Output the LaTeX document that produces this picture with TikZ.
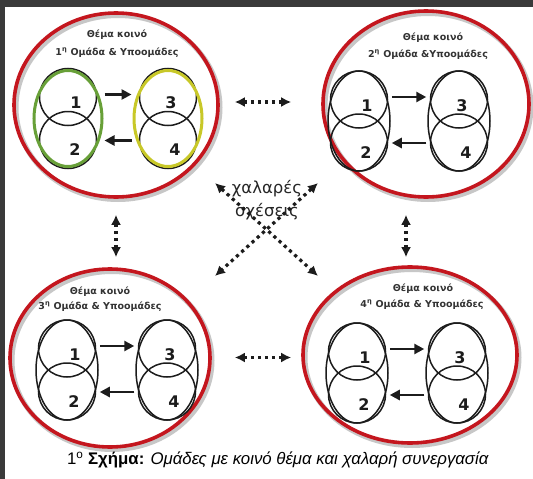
\documentclass[tikz,border=0pt]{standalone}
\usepackage{fontspec}
\setmainfont{DejaVu Sans}
\newfontfamily\capfont{Liberation Sans}
\usetikzlibrary{shapes.geometric,arrows.meta,calc}

\definecolor{ringred}{RGB}{196,22,30}
\definecolor{framegray}{RGB}{58,58,58}
\definecolor{subgreen}{RGB}{104,160,56}
\definecolor{subyellow}{RGB}{200,200,40}
\definecolor{ink}{RGB}{28,28,28}

\tikzset{
  ring/.style={ellipse, draw=ringred, line width=3.6pt, inner sep=0pt},
  ringshadow/.style={draw=black!22, line width=5pt},
  pairbox/.style={ellipse, draw=ink, line width=1.5pt, minimum width=62pt, minimum height=100pt, inner sep=0pt},
  pairhi/.style={ellipse, draw=#1, line width=3pt, minimum width=68pt, minimum height=96pt, inner sep=0pt},
  sub/.style={circle, draw=ink, line width=1.5pt, minimum size=57pt, inner sep=0pt},
  num/.style={font=\bfseries\fontsize{16}{16}\selectfont, text=ink, inner sep=0pt},
  title/.style={font=\bfseries\fontsize{9.5}{10}\selectfont, text=black!80, inner sep=0pt},
  flow/.style={-{Triangle[length=10pt,width=10pt]}, line width=2.9pt, draw=ink, shorten <=1pt, shorten >=1pt},
  loose/.style={{Latex[length=10pt,width=10pt]}-{Latex[length=10pt,width=10pt]}, line width=3.2pt, dash pattern=on 3.2pt off 3.8pt, draw=ink},
}

% #1 name, #2 content x, #3 content y, #4 left ring style, #5 right ring style
\newcommand{\subteams}[5]{%
  \node[sub] (#1a) at ({#2-50},{#3-21.5}) {};
  \node[sub] (#1b) at ({#2-50},{#3+21.5}) {};
  \node[sub] (#1c) at ({#2+50},{#3-21.5}) {};
  \node[sub] (#1d) at ({#2+50},{#3+21.5}) {};
  \node[#4] (#1L) at ({#2-50},#3) {};
  \node[#5] (#1R) at ({#2+50},#3) {};
  \node[num] (#1n1) at ([shift={(8,6)}]#1a.center) {1};
  \node[num] (#1n2) at ([shift={(7,10)}]#1b.center) {2};
  \node[num] (#1n3) at ([shift={(3,6)}]#1c.center) {3};
  \node[num] (#1n4) at ([shift={(7,10)}]#1d.center) {4};
  \draw[flow] ([yshift=24pt]#1L.east) -- ([yshift=24pt]#1R.west);
  \draw[flow] ([yshift=-22pt]#1R.west) -- ([yshift=-22pt]#1L.east);
}

% #1 name, #2 x, #3 y, #4 width, #5 height
\newcommand{\bigring}[5]{%
  \draw[ringshadow] ({#2+2},{#3+2.5}) ellipse [x radius={#4/2*1pt}, y radius={#5/2*1pt}];
  \node[ring, minimum width=#4pt, minimum height=#5pt] (#1) at (#2,#3) {};
}

\begin{document}
\begin{tikzpicture}[x=1pt,y=-1pt]
  \path[use as bounding box] (0,0) rectangle (533,479);
  \fill[white] (0,0) rectangle (533,479);
  \fill[framegray] (0,0) rectangle (533,7);
  \fill[framegray] (0,0) rectangle (5,479);

  % group rings
  \bigring{g1}{116}{105}{204}{184}
  \bigring{g2}{426}{104}{206}{186}
  \bigring{g3}{110}{358}{200}{178}
  \bigring{g4}{410}{355}{214}{176}

  % titles
  \node[title] (t1a) at (117,35) {Θέμα κοινό};
  \node[title] (t1b) at (117,53) {1\textsuperscript{η} Ομάδα \& Υποομάδες};
  \node[title] (t2a) at (433,38) {Θέμα κοινό};
  \node[title] (t2b) at (428,55) {2\textsuperscript{η} Ομάδα \&Υποομάδες};
  \node[title] (t3a) at (100,292) {Θέμα κοινό};
  \node[title] (t3b) at (100,307) {3\textsuperscript{η} Ομάδα \& Υποομάδες};
  \node[title] (t4a) at (423,289) {Θέμα κοινό};
  \node[title] (t4b) at (422,305) {4\textsuperscript{η} Ομάδα \& Υποομάδες};

  % sub-groups
  \subteams{g1}{118}{118.5}{pairhi=subgreen}{pairhi=subyellow}
  \subteams{g2}{409}{121}{pairbox}{pairbox}
  \subteams{g3}{117}{370}{pairbox}{pairbox}
  \subteams{g4}{407}{373}{pairbox}{pairbox}

  % loose relations
  \node[font=\fontsize{16.5}{23}\selectfont, text=black!85, align=center, inner sep=0pt] (loosetxt) at (267,200) {χαλαρές\\σχέσεις};
  \coordinate (d1) at (215,183);
  \coordinate (d2) at (318,183);
  \coordinate (d3) at (215,276);
  \coordinate (d4) at (318,276);
  \draw[loose] (d1) -- (d4);
  \draw[loose] (d2) -- (d3);

  \draw[loose, shorten <=15pt, shorten >=30pt] ([yshift=3pt]g1.east) -- ([yshift=2pt]g2.west);
  \draw[loose, shorten <=23pt, shorten >=10pt] ([yshift=0.5pt]g3.east) -- ([yshift=-2.5pt]g4.west);
  \draw[loose, shorten <=16pt, shorten >=10pt] (g1.south) -- (g1.south |- g3.north);
  \draw[loose, shorten <=16pt, shorten >=8pt] ([xshift=-20pt]g2.south) -- ([xshift=-20pt]g2.south |- g4.north);

  % caption
  \node[font=\capfont\fontsize{16.8}{17}\selectfont, text=black, inner sep=0pt] (cap) at (278,460)
    {1\textsuperscript{ο} \textbf{Σχήμα:} \textit{Ομάδες με κοινό θέμα και χαλαρή συνεργασία}};
\end{tikzpicture}
\end{document}
